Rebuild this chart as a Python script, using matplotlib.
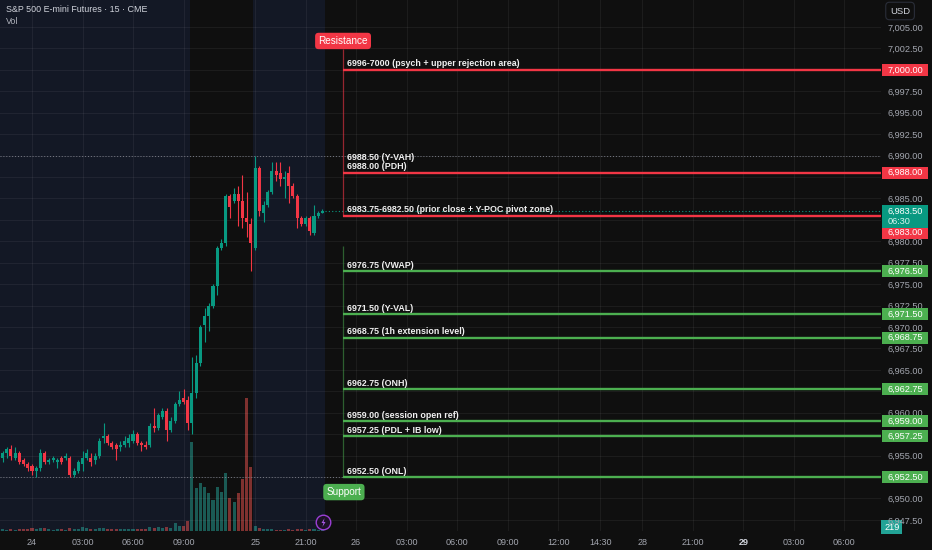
import numpy as np
import matplotlib
matplotlib.use("Agg")
import matplotlib.pyplot as plt
from matplotlib.patches import Rectangle
from matplotlib.transforms import blended_transform_factory
from matplotlib.ticker import FixedLocator, FuncFormatter

plt.rcParams["font.family"] = ["Liberation Sans", "DejaVu Sans"]

# ---- data (15 min bars, index 0 = 24th 00:00, holiday gap removed) ----
bar_idx = list(range(-7, 70))
opens = [6954.75, 6955.25, 6955.75, 6954.75, 6955.25, 6954.5, 6954.0, 6953.75, 6953.25, 6953.5,
         6955.25, 6954.25, 6954.5, 6954.25, 6954.75, 6954.75, 6954.75, 6952.75, 6953.25, 6954.0,
         6954.75, 6954.75, 6954.5, 6955.0, 6957.0, 6957.25, 6956.5, 6956.25, 6956.0, 6956.25,
         6956.5, 6956.75, 6957.5, 6956.5, 6956.25, 6956.25, 6958.5, 6958.25, 6959.5, 6960.25,
         6958.0, 6959.0, 6961.0, 6961.75, 6961.5, 6958.75, 6962.25, 6965.75, 6970.25, 6971.25,
         6972.5, 6974.75, 6979.25, 6979.75, 6985.25, 6984.75, 6985.5, 6984.75, 6982.75, 6982.0,
         6979.25, 6988.5, 6983.25, 6984.25, 6985.75, 6988.25, 6988.0, 6987.25, 6988.0, 6986.5,
         6985.25, 6982.75, 6982.0, 6982.75, 6981.0, 6983.0, 6983.25]
highs = [6955.5, 6956.0, 6956.25, 6956.0, 6955.5, 6954.75, 6954.25, 6954.0, 6953.75, 6955.75,
         6955.5, 6954.75, 6955.0, 6954.75, 6955.0, 6955.25, 6955.0, 6953.5, 6954.5, 6955.5,
         6955.75, 6955.25, 6955.25, 6957.0, 6958.75, 6957.5, 6956.75, 6956.5, 6956.75, 6957.25,
         6957.5, 6958.0, 6957.75, 6956.75, 6956.75, 6958.75, 6960.5, 6960.0, 6960.5, 6960.5,
         6959.5, 6961.25, 6962.5, 6962.75, 6962.0, 6966.5, 6966.75, 6970.25, 6972.25, 6972.75,
         6975.0, 6979.5, 6980.25, 6985.5, 6985.5, 6986.25, 6986.5, 6987.75, 6985.75, 6982.75,
         6990.0, 6988.75, 6984.75, 6986.0, 6989.25, 6989.25, 6989.25, 6988.25, 6988.75, 6986.75,
         6985.5, 6983.0, 6983.0, 6983.0, 6984.25, 6983.5, 6983.75]
lows = [6954.25, 6954.75, 6954.5, 6954.5, 6954.0, 6953.75, 6953.25, 6952.75, 6952.5, 6953.25,
        6954.0, 6954.0, 6954.25, 6953.5, 6954.0, 6954.5, 6952.5, 6952.5, 6953.0, 6953.25,
        6954.5, 6953.75, 6954.0, 6954.75, 6956.5, 6956.25, 6955.75, 6954.5, 6955.5, 6956.0,
        6956.0, 6956.5, 6956.25, 6955.5, 6955.75, 6956.0, 6957.75, 6958.0, 6959.25, 6956.75,
        6957.75, 6958.75, 6960.75, 6961.0, 6958.0, 6957.5, 6961.75, 6965.5, 6968.25, 6969.5,
        6972.25, 6973.75, 6979.0, 6979.5, 6982.75, 6984.5, 6981.75, 6981.5, 6980.5, 6976.5,
        6979.0, 6983.0, 6982.25, 6984.0, 6985.5, 6987.0, 6986.5, 6985.0, 6984.5, 6985.0,
        6981.5, 6981.75, 6981.75, 6980.75, 6980.75, 6982.75, 6983.25]
closes = [6955.25, 6955.75, 6955.0, 6955.25, 6954.25, 6954.0, 6953.5, 6953.25, 6953.5, 6955.25,
          6954.25, 6954.5, 6954.75, 6954.5, 6954.25, 6955.0, 6952.75, 6953.25, 6954.25, 6954.75,
          6955.25, 6954.25, 6955.0, 6956.75, 6957.25, 6956.5, 6956.0, 6955.75, 6956.25, 6956.75,
          6957.0, 6957.5, 6956.5, 6956.25, 6956.0, 6958.5, 6958.25, 6959.75, 6960.25, 6958.0,
          6959.0, 6961.0, 6961.5, 6961.25, 6958.75, 6962.25, 6965.75, 6970.0, 6971.25, 6972.5,
          6974.75, 6979.25, 6979.75, 6985.25, 6984.0, 6985.5, 6984.75, 6982.75, 6982.25, 6979.75,
          6988.5, 6983.5, 6984.25, 6985.75, 6988.25, 6987.75, 6987.25, 6987.5, 6986.5, 6985.25,
          6982.75, 6982.0, 6982.75, 6981.25, 6983.0, 6983.25, 6983.5]
volumes = [310, 280, 350, 260, 420, 380, 450, 520, 400, 610,
           480, 300, 260, 330, 290, 270, 560, 420, 470, 690,
           540, 430, 380, 620, 510, 440, 360, 420, 300, 350,
           330, 390, 470, 380, 340, 720, 560, 680, 590, 830,
           640, 1500, 1000, 950, 1900, 16700, 8100, 9000, 8300, 7100,
           5800, 8300, 7300, 10900, 6200, 5500, 7100, 9800, 25000, 12000,
           900, 520, 380, 300, 410, 260, 240, 280, 330, 270,
           450, 310, 260, 350, 300, 240, 219]

# extended-hours background spans (bar index)
eth_spans = [(-7.6, 37.5), (52.5, 69.5)]

tick_idx = [0, 12, 24, 36, 53, 65, 77, 89, 101, 113, 125, 135, 145, 157, 169, 181, 193]
tick_labels = ["24", "03:00", "06:00", "09:00", "25", "21:00", "26", "03:00", "06:00",
               "09:00", "12:00", "14:30", "28", "21:00", "29", "03:00", "06:00"]

level_prices = [7000.00, 6988.00, 6983.00, 6976.50, 6971.50, 6968.75,
                6962.75, 6959.00, 6957.25, 6952.50]
level_kind = ["res", "res", "res", "sup", "sup", "sup", "sup", "sup", "sup", "sup"]
level_notes = [["6996-7000 (psych + upper rejection area)"],
               ["6988.00 (PDH)", "6988.50 (Y-VAH)"],
               ["6983.75-6982.50 (prior close + Y-POC pivot zone)"],
               ["6976.75 (VWAP)"],
               ["6971.50 (Y-VAL)"],
               ["6968.75 (1h extension level)"],
               ["6962.75 (ONH)"],
               ["6959.00 (session open ref)"],
               ["6957.25 (PDL + IB low)"],
               ["6952.50 (ONL)"]]
box_shift_px = [0, 0, 17, 0, 0, 0, 0, 0, 0, 0]

session_high = 6990.00
session_low = 6952.50
countdown = "06:30"

# ---- style ----
BG = "#0f0f0f"
ETH = "#131825"
UP = "#089981"
DOWN = "#f23645"
GREEN = "#4caf50"
TXT = "#a3a6af"

FIG_W, FIG_H = 932, 550
PLOT_W, PLOT_H = 881, 531
XLIM = (-7.6, 201.7)
YLIM = (6946.2, 7008.15)
PRICE_PER_PX = (YLIM[1] - YLIM[0]) / PLOT_H
LINE_X0 = 73.9
NOTE_X = 74.8

fig = plt.figure(figsize=(FIG_W / 100, FIG_H / 100), dpi=100, facecolor=BG)
rect = [0, 1 - PLOT_H / FIG_H, PLOT_W / FIG_W, PLOT_H / FIG_H]
ax_vol = fig.add_axes(rect)
ax = fig.add_axes(rect, sharex=ax_vol)
ax.patch.set_visible(False)
ax_vol.set_facecolor(BG)

x = np.array(bar_idx, dtype=float)
o = np.array(opens)
h = np.array(highs)
l = np.array(lows)
c = np.array(closes)
up = c >= o
colors = np.where(up, UP, DOWN)

# background sessions + volume
for a, b in eth_spans:
    ax_vol.axvspan(a, b, color=ETH, lw=0, zorder=0)
vol_colors = np.where(up, "#26a69a", "#ef5350")
ax_vol.bar(x, volumes, width=0.72, color=vol_colors, alpha=0.5, lw=0, zorder=1)
ax_vol.set_ylim(0, 100000)
ax_vol.tick_params(left=False, bottom=False, labelleft=False, labelbottom=False)
for s in ax_vol.spines.values():
    s.set_visible(False)

# candles
ax.vlines(x, l, h, colors=colors, linewidth=0.8, zorder=3)
ax.bar(x, np.maximum(np.abs(c - o), 0.12), bottom=np.minimum(o, c), width=0.72,
       color=colors, lw=0, zorder=4)

ax.set_xlim(*XLIM)
ax.set_ylim(*YLIM)

# price scale boxes: (centre, top_px, bottom_px) so covered tick labels are hidden
box_list = []
for p, k, sh in zip(level_prices, level_kind, box_shift_px):
    box_list.append((p - sh * PRICE_PER_PX, f"{p:,.2f}", DOWN if k == "res" else GREEN, 12, None))
box_list.append((c[-1], f"{c[-1]:,.2f}", UP, 23, countdown))


def covered(v):
    for yc, _, _, hp, _ in box_list:
        top = yc + (6 + 2) * PRICE_PER_PX
        bot = yc - (hp - 6 + 2) * PRICE_PER_PX
        if bot < v < top and abs(v - yc) < (hp - 4) * PRICE_PER_PX:
            if abs(v - yc) < 6 * PRICE_PER_PX or hp > 12:
                return True
    return False


# axes / grid
ax.yaxis.tick_right()
ax.yaxis.set_major_locator(FixedLocator(np.arange(6947.5, 7005.1, 2.5)))
ax.yaxis.set_major_formatter(FuncFormatter(lambda v, p: "" if covered(v) else f"{v:,.2f}"))
ax.xaxis.set_major_locator(FixedLocator(tick_idx))
ax.set_xticklabels(tick_labels)
ax.tick_params(axis="y", length=0, pad=5, labelsize=6.6, labelcolor=TXT)
ax.tick_params(axis="x", length=0, pad=5, labelsize=6.5, labelcolor=TXT)
for lab in ax.get_xticklabels():
    if lab.get_text() == "29":
        lab.set_fontweight("bold")
        lab.set_color("#d1d4dc")
ax.grid(True, color="#f2f2f2", alpha=0.06, lw=0.8)
ax.set_axisbelow(True)
for s in ax.spines.values():
    s.set_visible(False)

# dotted reference lines
ax.hlines(session_high, XLIM[0], XLIM[1], colors="#787b86", linestyles=(0, (1, 2)), lw=0.7, zorder=2)
ax.hlines(session_low, XLIM[0], LINE_X0, colors="#787b86", linestyles=(0, (1, 2)), lw=0.7, zorder=2)
ax.hlines(c[-1], x[-1] + 0.5, XLIM[1], colors=UP, linestyles=(0, (1, 2)), lw=0.8, zorder=2)

# levels
res_prices = [p for p, k in zip(level_prices, level_kind) if k == "res"]
sup_prices = [p for p, k in zip(level_prices, level_kind) if k == "sup"]
ax.vlines(LINE_X0, min(res_prices), 7002.4, colors=DOWN, lw=0.9, alpha=0.6, zorder=5)
ax.vlines(LINE_X0, min(sup_prices), 6979.5, colors=GREEN, lw=0.9, alpha=0.5, zorder=5)
for p, k, notes in zip(level_prices, level_kind, level_notes):
    col = DOWN if k == "res" else GREEN
    ax.hlines(p, LINE_X0, XLIM[1], colors=col, lw=1.7, zorder=6)
    for j, note in enumerate(notes):
        ax.annotate(note, (NOTE_X, p), xytext=(0, 4.3 + j * 6.6), textcoords="offset points",
                    ha="left", va="center", fontsize=6.4, fontweight="bold", color="#f0f0f0",
                    zorder=7)

ax.text(LINE_X0, 7003.37, "Resistance", ha="center", va="center", fontsize=7.2, color="white",
        zorder=8, bbox=dict(boxstyle="round,pad=0.32,rounding_size=0.35", fc=DOWN, ec="none"))
ax.text(74.1, 6950.74, "Support", ha="center", va="center", fontsize=7.2, color="white",
        zorder=8, bbox=dict(boxstyle="round,pad=0.32,rounding_size=0.35", fc=GREEN, ec="none"))

trans = blended_transform_factory(ax.transAxes, ax.transData)
for yc, text, fc, hp, sub in box_list:
    hh = hp * PRICE_PER_PX
    top = yc + 6 * PRICE_PER_PX
    ax.add_patch(Rectangle((1 + 1 / PLOT_W, top - hh), 46 / PLOT_W, hh, transform=trans,
                           facecolor=fc, lw=0, clip_on=False, zorder=9))
    ax.text(1 + 7 / PLOT_W, yc, text, transform=trans, ha="left", va="center",
            fontsize=6.6, color="white", clip_on=False, zorder=10)
    if sub:
        ax.text(1 + 7 / PLOT_W, yc - 10 * PRICE_PER_PX, sub, transform=trans, ha="left",
                va="center", fontsize=6.6, color="#d8f3ee", clip_on=False, zorder=10)

ax_vol.text(1 + 3 / PLOT_W, 1 - 527 / PLOT_H, str(volumes[-1]), transform=ax_vol.transAxes,
            ha="left", va="center", fontsize=6.6, color="white", clip_on=False, zorder=10,
            bbox=dict(boxstyle="square,pad=0.3", fc="#22a396", ec="none"))

# header and misc
fig.text(6 / FIG_W, 1 - 10 / FIG_H, "S&P 500 E-mini Futures · 15 · CME", fontsize=6.4,
         color="#d1d4dc", va="center", ha="left")
fig.text(6 / FIG_W, 1 - 22 / FIG_H, "Vol", fontsize=6.4, color="#b2b5be", va="center", ha="left")
fig.text(890 / FIG_W, 1 - 11 / FIG_H, "USD", fontsize=6.8, color="#d1d4dc", va="center", ha="left",
         bbox=dict(boxstyle="round,pad=0.45,rounding_size=0.4", fc=BG, ec="#2a2e39", lw=0.8))

bolt = [(0.25, 1.0), (-0.45, -0.1), (0.0, -0.1), (-0.25, -1.0), (0.45, 0.1), (0.0, 0.1), (0.25, 1.0)]
ax.scatter([323 / PLOT_W], [1 - 522 / PLOT_H], s=110, marker="o", facecolor="#1e1228",
           edgecolor="#9c3fd6", lw=1.0, transform=ax.transAxes, zorder=8, clip_on=False)
ax.scatter([323 / PLOT_W], [1 - 522 / PLOT_H], s=40, marker=bolt, color="#b15cf0", lw=0,
           transform=ax.transAxes, zorder=9, clip_on=False)

fig.savefig("out.png", dpi=100, facecolor=BG)
